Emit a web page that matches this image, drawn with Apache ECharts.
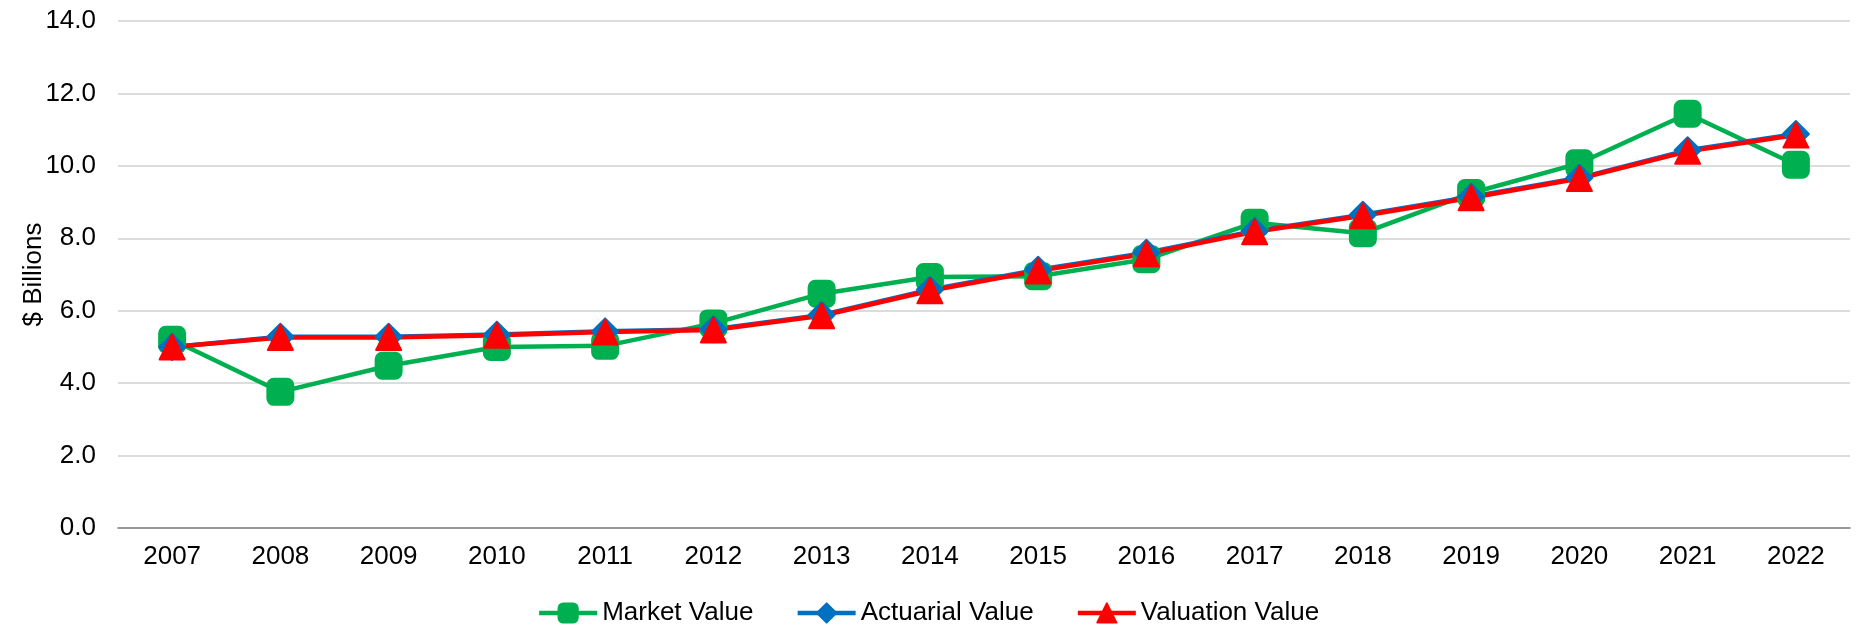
<!DOCTYPE html>
<html>
<head>
<meta charset="utf-8">
<script src="https://cdn.jsdelivr.net/npm/echarts@6/dist/echarts.min.js"></script>
<style>
  html, body { margin: 0; padding: 0; background: #fff; }
  #chart { width: 1856px; height: 631px; }
</style>
</head>
<body>
<div id="chart"></div>
<script>
const years = ['2007', '2008', '2009', '2010', '2011', '2012', '2013', '2014',
  '2015', '2016', '2017', '2018', '2019', '2020', '2021', '2022'];
const marketValue = [5.2, 3.76, 4.48, 5.0, 5.03, 5.65, 6.47, 6.93,
  6.95, 7.42, 8.43, 8.14, 9.25, 10.07, 11.44, 10.03];
const actuarialValue = [5.0, 5.28, 5.28, 5.34, 5.43, 5.49, 5.88, 6.58,
  7.13, 7.6, 8.2, 8.65, 9.15, 9.67, 10.43, 10.88];
const valuationValue = [5.0, 5.26, 5.26, 5.32, 5.41, 5.47, 5.86, 6.55,
  7.1, 7.57, 8.18, 8.62, 9.12, 9.65, 10.4, 10.85];
const yTicks = { min: 0, max: 14, interval: 2 };

const font = 'Liberation Sans, Arial, sans-serif';
const chart = echarts.init(document.getElementById('chart'));

function lineSeries(name, data, color, symbol, size) {
  return {
    name,
    type: 'line',
    data,
    symbol,
    symbolSize: size,
    color,
    lineStyle: { color, width: 4.5 },
    itemStyle: { color, borderColor: color, borderWidth: 2, borderJoin: 'round' },
    emphasis: { disabled: true },
  };
}

chart.setOption({
  animation: false,
  backgroundColor: '#fff',
  textStyle: { fontFamily: font },
  grid: { left: 118, right: 6, top: 21, bottom: 103 },
  legend: {
    bottom: 0,
    left: 'center',
    itemWidth: 58,
    itemHeight: 24,
    itemGap: 42,
    lineStyle: { width: 4.5 },
    textStyle: { fontFamily: font, fontSize: 26, color: '#000' },
  },
  xAxis: {
    type: 'category',
    data: years,
    boundaryGap: true,
    axisLine: { lineStyle: { color: '#808080', width: 1.5 } },
    axisTick: { show: false },
    axisLabel: { color: '#000', fontSize: 26, margin: 16, fontFamily: font },
  },
  yAxis: {
    type: 'value',
    min: yTicks.min,
    max: yTicks.max,
    interval: yTicks.interval,
    name: '$ Billions',
    nameLocation: 'middle',
    nameGap: 71,
    nameMoveOverlap: false,
    nameTextStyle: { color: '#000', fontSize: 26, fontFamily: font },
    axisLine: { show: false },
    axisTick: { show: false },
    axisLabel: {
      color: '#000', fontSize: 26, margin: 22, fontFamily: font,
      formatter: (v) => v.toFixed(1),
    },
    splitLine: { lineStyle: { color: '#d0d0d0', width: 1.5 } },
  },
  series: [
    lineSeries('Market Value', marketValue, '#00B050', 'roundRect', 26),
    lineSeries('Actuarial Value', actuarialValue, '#0070C0', 'diamond', 26),
    lineSeries('Valuation Value', valuationValue, '#FF0000', 'triangle', 25),
  ],
});
</script>
</body>
</html>
